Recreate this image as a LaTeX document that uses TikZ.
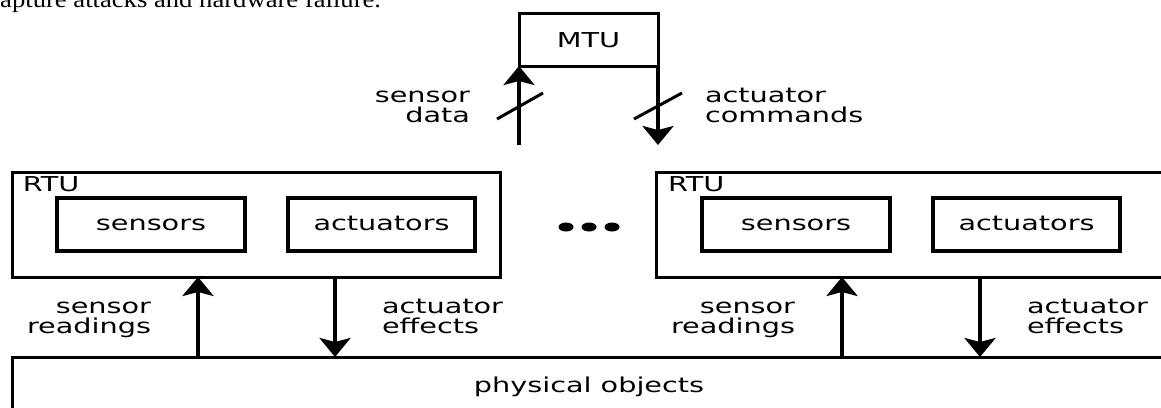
\documentclass[tikz,border=0pt]{standalone}
\usepackage{fontspec}
\usetikzlibrary{arrows.meta}
\newfontfamily\lblfont[FakeStretch=1.4]{DejaVu Sans}
\newfontfamily\serfont[FakeStretch=1.11]{Liberation Serif}
\begin{document}
\begin{tikzpicture}[x=1pt,y=-1pt,
  lbl/.style={font=\lblfont\fontsize{20.5}{20}\selectfont, inner sep=0pt, outer sep=0pt},
  outerbox/.style={draw, line width=3pt, inner sep=0pt, outer sep=0pt},
  innerbox/.style={draw, line width=4pt, inner sep=0pt, outer sep=0pt,
     minimum width=188pt, minimum height=53pt,
     font=\lblfont\fontsize{20.5}{20}\selectfont, text height=11.2pt, text depth=0pt},
  arr/.style={line width=4pt, -{Stealth[length=19pt,width=31pt,inset=4pt]}},
  slash/.style={line width=3pt}]
\useasboundingbox (0,0) rectangle (1161,407);
\clip (0,0) rectangle (1161,407);

% caption fragment
\node[anchor=base west, inner sep=0pt, font=\serfont\fontsize{24}{26}\selectfont] (cap) at (0,7.5) {apture attacks and hardware failure.};

% MTU
\node[outerbox, minimum width=139pt, minimum height=53pt,
      font=\lblfont\fontsize{20.5}{20}\selectfont, text height=15pt, text depth=0pt] (mtu) at (588.5,39.5) {MTU};
\coordinate (sdb) at (519,145);
\coordinate (acb) at (658,145);
\draw[arr] (sdb) -- (mtu.south west);
\draw[arr] (mtu.south east) -- (acb);
\draw[slash] (497,119) -- (543,93);
\draw[slash] (634,119) -- (682,93);
\node[lbl, anchor=base east] (sd1) at (470,102) {sensor};
\node[lbl, anchor=base east] (sd2) at (470,122) {data};
\node[lbl, anchor=base west] (ac1) at (705,102) {actuator};
\node[lbl, anchor=base west] (ac2) at (705,122) {commands};

% RTU boxes
\node[outerbox, minimum width=488pt, minimum height=105pt] (rtu1) at (256,224.5) {};
\node[outerbox, minimum width=510pt, minimum height=105pt] (rtu2) at (911,224.5) {};
\node[lbl, anchor=base west] (rl1) at (23,191) {RTU};
\node[lbl, anchor=base west] (rl2) at (668,191) {RTU};
\node[innerbox] (s1) at (151,224.5) {sensors};
\node[innerbox, minimum width=187pt] (a1) at (381.5,224.5) {actuators};
\node[innerbox] (s2) at (796,224.5) {sensors};
\node[innerbox, minimum width=187pt] (a2) at (1026.5,224.5) {actuators};

% dots
\fill (566,227) ellipse [x radius=7.5pt, y radius=4.5pt];
\fill (589,227) ellipse [x radius=7.5pt, y radius=4.5pt];
\fill (612,227) ellipse [x radius=7.5pt, y radius=4.5pt];

% physical objects
\node[outerbox, minimum width=1154pt, minimum height=60pt,
      font=\lblfont\fontsize{20.5}{20}\selectfont, text height=11.2pt, text depth=0pt] (phys) at (589,387) {physical objects};

% arrows to physical objects
\coordinate (xl1) at (198,0);
\coordinate (xl2) at (335,0);
\coordinate (xr1) at (842,0);
\coordinate (xr2) at (980,0);
\draw[arr] (phys.north -| xl1) -- (rtu1.south -| xl1);
\draw[arr] (rtu1.south -| xl2) -- (phys.north -| xl2);
\draw[arr] (phys.north -| xr1) -- (rtu2.south -| xr1);
\draw[arr] (rtu2.south -| xr2) -- (phys.north -| xr2);

\node[lbl, anchor=base east] (sr1) at (151,313) {sensor};
\node[lbl, anchor=base east] (sr2) at (151,333) {readings};
\node[lbl, anchor=base west] (ae1) at (382,313) {actuator};
\node[lbl, anchor=base west] (ae2) at (382,333) {effects};
\node[lbl, anchor=base east] (sr3) at (795,313) {sensor};
\node[lbl, anchor=base east] (sr4) at (795,333) {readings};
\node[lbl, anchor=base west] (ae3) at (1027,313) {actuator};
\node[lbl, anchor=base west] (ae4) at (1027,333) {effects};
\end{tikzpicture}
\end{document}
